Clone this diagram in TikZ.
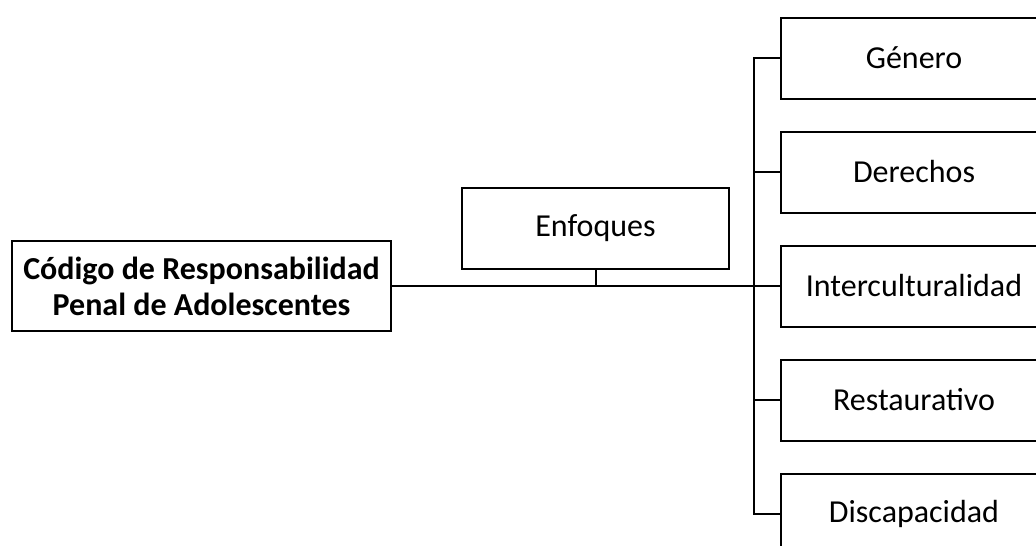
\documentclass[tikz,border=0pt]{standalone}
\usepackage{fontspec}
\setmainfont{Carlito}
\begin{document}
\begin{tikzpicture}[x=1pt,y=-1pt,
  box/.style={draw,line width=2pt,inner sep=0pt,anchor=north west,align=center,font=\fontsize{32}{36}\selectfont},
  conn/.style={line width=2pt}]
\useasboundingbox (0,0) rectangle (1036,546);
\clip (0,0) rectangle (1036,546);
\node[box,minimum width=379pt,minimum height=90pt,font=\bfseries\fontsize{32}{36}\selectfont] (main) at (11,240) {Código de Responsabilidad\\Penal de Adolescentes};
\node[box,minimum width=267pt,minimum height=81pt] (enf) at (461,187) {Enfoques};
\foreach \n/\t/\y in {g/Género/16.5,d/Derechos/130.5,i/Interculturalidad/244.5,r/Restaurativo/358.5,c/Discapacidad/472.5}{
  \node[box,minimum width=266pt,minimum height=81pt] (\n) at (780,\y) {\t};
}
\coordinate (sp) at (754,0);
\draw[conn] (main.east) -- (i.west);
\draw[conn] (enf.south) -- (enf.south |- main.east);
\draw[conn] (g.west) -| (sp |- g.west) -- (sp |- c.west) -- (c.west);
\foreach \n in {d,r}{\draw[conn] (sp |- \n.west) -- (\n.west);}
\end{tikzpicture}
\end{document}
